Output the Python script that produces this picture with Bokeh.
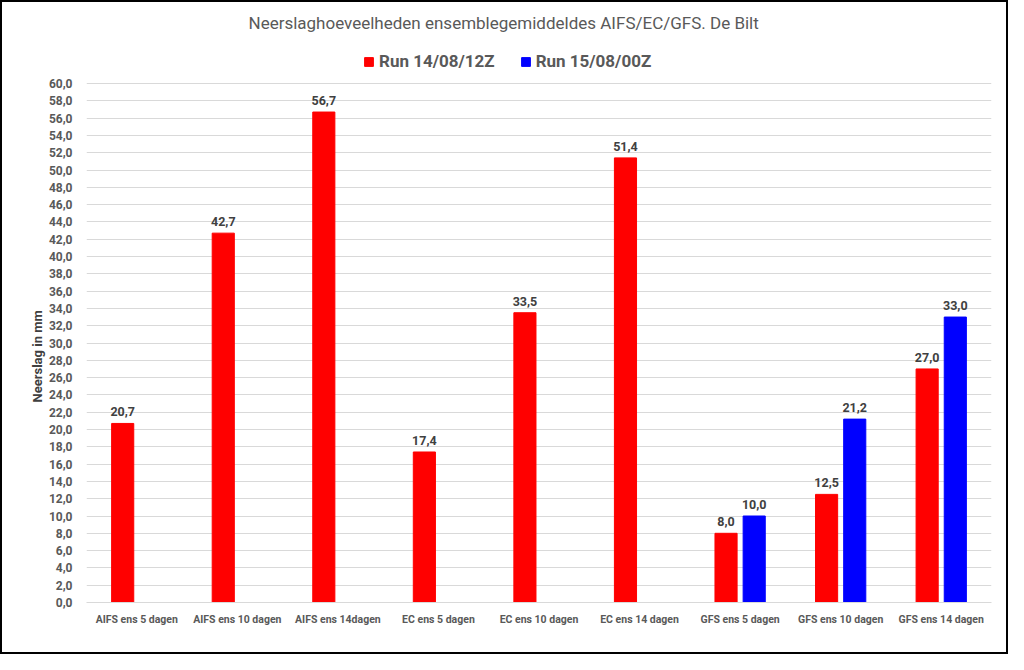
from bokeh.plotting import figure
from bokeh.models import (ColumnDataSource, FactorRange, Range1d, FixedTicker,
                          CustomJSTickFormatter, Legend, LegendItem, Title)
from bokeh.transform import dodge
from bokeh.core.properties import value
from bokeh.embed import file_html
from bokeh.resources import INLINE

title_text = "Neerslaghoeveelheden ensemblegemiddeldes AIFS/EC/GFS. De Bilt"
series_names = ["Run 14/08/12Z", "Run 15/08/00Z"]
categories = ["AIFS ens 5 dagen", "AIFS ens 10 dagen", "AIFS ens 14dagen",
              "EC ens 5 dagen", "EC ens 10 dagen", "EC ens 14 dagen",
              "GFS ens 5 dagen", "GFS ens 10 dagen", "GFS ens 14 dagen"]
run1_values = [20.7, 42.7, 56.7, 17.4, 33.5, 51.4, 8.0, 12.5, 27.0]
run2_categories = ["GFS ens 5 dagen", "GFS ens 10 dagen", "GFS ens 14 dagen"]
run2_values = [10.0, 21.2, 33.0]
y_ticks = list(range(0, 61, 2))
y_label = "Neerslag in mm"

def fmt(v):
    return f"{v:.1f}".replace(".", ",")

src1 = ColumnDataSource(dict(cat=categories, val=run1_values,
                             lbl=[fmt(v) for v in run1_values]))
src2 = ColumnDataSource(dict(cat=run2_categories, val=run2_values,
                             lbl=[fmt(v) for v in run2_values]))

FONT = "Roboto"
GRAY = "#595959"

# layout (pixels)
W, H = 1008, 654
BL, BR, BT, BB = 84, 19, 34, 54
axis_px = 519                      # pixel height of the 0..60 axis
frame_px = H - BT - BB
y_end = y_ticks[-1] * frame_px / axis_px   # leave room above for the legend

p = figure(width=W, height=H, x_range=FactorRange(*categories),
           y_range=Range1d(0, y_end), output_backend="svg", toolbar_location=None,
           min_border_left=BL, min_border_right=BR, min_border_top=BT,
           min_border_bottom=BB)
p.styles = {"border": "2px solid #000000", "box-sizing": "border-box"}

p.title.text = title_text
p.title.align = "left"
p.title.offset = 162
p.title.standoff = 8
p.title.text_font = FONT
p.title.text_font_style = "normal"
p.title.text_font_size = "17px"
p.title.text_color = GRAY

bw = 0.22
off = 0.14
r1 = p.vbar(x=dodge("cat", -off, range=p.x_range), top="val", width=bw,
            source=src1, color="#FF0000")
r2 = p.vbar(x=dodge("cat", off, range=p.x_range), top="val", width=bw,
            source=src2, color="#0000FF")

for src, o in ((src1, -off), (src2, off)):
    p.text(x=dodge("cat", o, range=p.x_range), y="val", text="lbl", source=src,
           text_align="center", text_baseline="bottom", y_offset=-7,
           text_font=value(FONT), text_font_style="bold",
           text_font_size="12.5px", text_color="#404040")

legend = Legend(items=[LegendItem(label=series_names[0], renderers=[r1]),
                       LegendItem(label=series_names[1], renderers=[r2])],
                orientation="horizontal", location=(277, 531),
                border_line_color=None, background_fill_alpha=0,
                label_text_font=FONT, label_text_font_style="bold",
                label_text_font_size="17px", label_text_color=GRAY,
                glyph_width=11, glyph_height=11, label_standoff=5, spacing=25,
                padding=0, margin=0)
p.add_layout(legend, "center")

ylab = Title(text=y_label, align="left", offset=200, standoff=1.5,
             text_font=FONT, text_font_style="bold", text_font_size="13px",
             text_color="#404040")
p.add_layout(ylab, "left")

p.xgrid.grid_line_color = None
p.ygrid.grid_line_color = "#D9D9D9"
p.outline_line_color = None

p.yaxis.ticker = FixedTicker(ticks=y_ticks)
p.yaxis.formatter = CustomJSTickFormatter(code="return tick.toFixed(1).replace('.', ',');")
p.yaxis.axis_line_color = None
p.yaxis.major_tick_line_color = None
p.yaxis.minor_tick_line_color = None
p.yaxis.major_label_text_font = FONT
p.yaxis.major_label_text_font_style = "bold"
p.yaxis.major_label_text_font_size = "12px"
p.yaxis.major_label_text_color = GRAY
p.yaxis.major_label_standoff = 8

p.xaxis.axis_line_color = "#D9D9D9"
p.xaxis.major_tick_line_color = None
p.xaxis.minor_tick_line_color = None
p.xaxis.major_label_text_font = FONT
p.xaxis.major_label_text_font_style = "bold"
p.xaxis.major_label_text_font_size = "10.5px"
p.xaxis.major_label_text_color = GRAY
p.xaxis.major_label_standoff = 4

open("out.html", "w").write(file_html(p, INLINE))
